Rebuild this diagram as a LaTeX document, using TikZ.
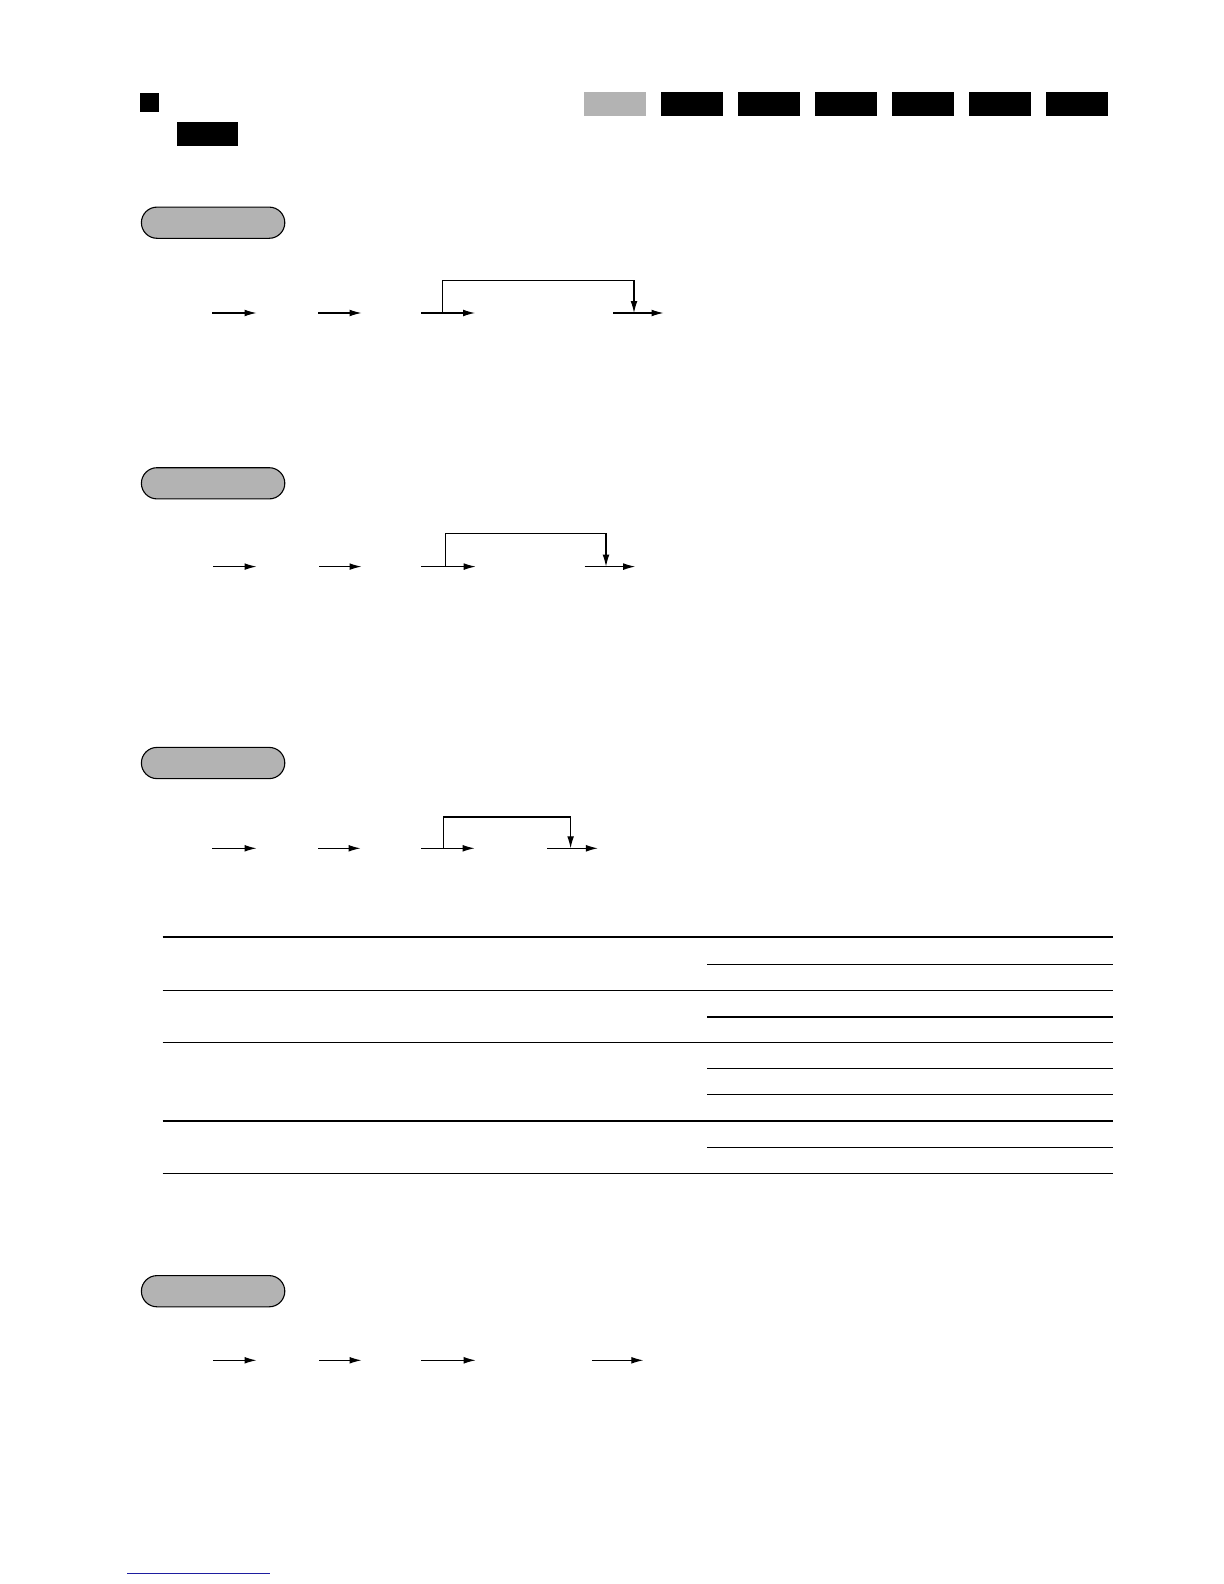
\documentclass[tikz,border=0pt]{standalone}
\usetikzlibrary{arrows.meta}
\definecolor{keygray}{HTML}{B3B3B3}
\definecolor{linkblue}{HTML}{1E1EA0}
\begin{document}
\begin{tikzpicture}[
        x=0.5pt, y=-0.5pt,
        pill/.style={draw, fill=keygray, rounded corners=7.8pt, line width=0.55pt,
            minimum width=71.7pt, minimum height=15.6pt, inner sep=0pt},
        tab/.style={fill=black, minimum width=31pt, minimum height=12pt, inner sep=0pt},
        flow/.style={-{Latex[length=6pt,width=3.4pt]}, line width=0.55pt},
        rule/.style={line width=0.55pt}
    ]
        \useasboundingbox (0,0) rectangle (1224,1584);

        % Heading marks
        \node[fill=black, minimum size=9.5pt, inner sep=0pt] (mark) at (149,102.5) {};
        \node[fill=black, minimum width=30.8pt, minimum height=12.2pt, inner sep=0pt] (badge) at (207.5,134.2) {};
        \node[tab, fill=keygray] (tab0) at (614.5,104) {};
        \foreach \i in {1,...,6}
            \node[tab] (tab\i) at (614.5+77*\i,104) {};

        % Section 1
        \node[pill] (sec1) at (213.1,222.7) {};
        \begin{scope}[shift={(0,313)}]
        \coordinate (a1) at (212,0);   \coordinate (b1) at (256.5,0);
        \coordinate (a2) at (318,0);   \coordinate (b2) at (361.5,0);
        \coordinate (a3) at (421,0);   \coordinate (b3) at (475,0);
        \coordinate (up) at (442.5,0); \coordinate (top) at (442.5,-32.3);
        \coordinate (turn) at (634,-32.3); \coordinate (down) at (634,0);
        \coordinate (a4) at (613,0);   \coordinate (b4) at (663.5,0);
        \draw[flow] (a1) -- (b1);
        \draw[flow] (a2) -- (b2);
        \draw[flow] (a3) -- (b3);
        \draw[flow] (up) -- (top) -- (turn) -- (down);
        \draw[flow] (a4) -- (b4);
        \end{scope}

        % Section 2
        \node[pill] (sec2) at (213.1,483.3) {};
        \begin{scope}[shift={(0,566.6)}]
        \coordinate (a1) at (213,0);   \coordinate (b1) at (256.5,0);
        \coordinate (a2) at (319,0);   \coordinate (b2) at (361.5,0);
        \coordinate (a3) at (421,0);   \coordinate (b3) at (475.7,0);
        \coordinate (up) at (445.4,0); \coordinate (top) at (445.4,-33.4);
        \coordinate (turn) at (606,-33.4); \coordinate (down) at (606,0);
        \coordinate (a4) at (584.7,0); \coordinate (b4) at (635.2,0);
        \draw[flow] (a1) -- (b1);
        \draw[flow] (a2) -- (b2);
        \draw[flow] (a3) -- (b3);
        \draw[flow] (up) -- (top) -- (turn) -- (down);
        \draw[flow] (a4) -- (b4);
        \end{scope}

        % Section 3
        \node[pill] (sec3) at (213.1,763) {};
        \begin{scope}[shift={(0,848.3)}]
        \coordinate (a1) at (212,0);   \coordinate (b1) at (256.5,0);
        \coordinate (a2) at (318,0);   \coordinate (b2) at (360.5,0);
        \coordinate (a3) at (421,0);   \coordinate (b3) at (474.6,0);
        \coordinate (up) at (443.3,0); \coordinate (top) at (443.3,-31.3);
        \coordinate (turn) at (570.6,-31.3); \coordinate (down) at (570.6,0);
        \coordinate (a4) at (547.4,0); \coordinate (b4) at (597.9,0);
        \draw[flow] (a1) -- (b1);
        \draw[flow] (a2) -- (b2);
        \draw[flow] (a3) -- (b3);
        \draw[flow] (up) -- (top) -- (turn) -- (down);
        \draw[flow] (a4) -- (b4);
        \end{scope}

        % Table rules
        \draw[line width=1.1pt] (162.6,937.2) -- (1113,937.2);
        \foreach \y in {990.7,1042.2,1121,1173.5}
            \draw[rule] (162.6,\y) -- (1113,\y);
        \foreach \y in {964.5,1017,1068.5,1094.7,1147.2}
            \draw[rule] (707,\y) -- (1113,\y);

        % Section 4
        \node[pill] (sec4) at (213.1,1291.2) {};
        \begin{scope}[shift={(0,1360.3)}]
        \coordinate (a1) at (213,0);   \coordinate (b1) at (256.5,0);
        \coordinate (a2) at (319,0);   \coordinate (b2) at (361.5,0);
        \coordinate (a3) at (421,0);   \coordinate (b3) at (475.7,0);
        \coordinate (a4) at (591.8,0); \coordinate (b4) at (643.3,0);
        \draw[flow] (a1) -- (b1);
        \draw[flow] (a2) -- (b2);
        \draw[flow] (a3) -- (b3);
        \draw[flow] (a4) -- (b4);
        \end{scope}

        % Footer link
        \draw[linkblue, line width=0.7pt] (127,1573.4) -- (269.6,1573.4);
    \end{tikzpicture}
\end{document}
